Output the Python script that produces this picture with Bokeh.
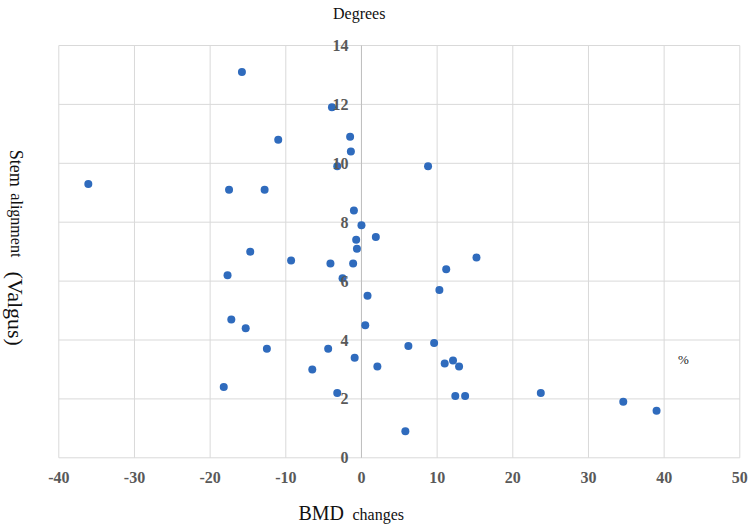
import math
from bokeh.plotting import figure
from bokeh.models import Range1d, Label
from bokeh.core.properties import value
from bokeh.embed import file_html
from bokeh.resources import INLINE

# ---- data ----
bmd_change = [-15.8, -3.9, -11.0, -1.5, -1.4, -3.2, -36.1, -17.5, -12.8, -1.0,
              0.0, 1.9, -0.7, -0.6, -14.7, 8.8, 15.2, -9.3, -4.1, -1.1,
              -17.7, -2.5, 0.8, -17.2, -15.3, 0.5, -12.5, -4.4, -0.9, -6.5,
              2.1, -18.2, -3.2, 11.2, 10.3, 6.2, 9.6, 11.0, 12.1, 12.9,
              12.4, 13.7, 23.7, 34.6, 39.0, 5.8]
stem_alignment = [13.1, 11.9, 10.8, 10.9, 10.4, 9.9, 9.3, 9.1, 9.1, 8.4,
                  7.9, 7.5, 7.4, 7.1, 7.0, 9.9, 6.8, 6.7, 6.6, 6.6,
                  6.2, 6.1, 5.5, 4.7, 4.4, 4.5, 3.7, 3.7, 3.4, 3.0,
                  3.1, 2.4, 2.2, 6.4, 5.7, 3.8, 3.9, 3.2, 3.3, 3.1,
                  2.1, 2.1, 2.2, 1.9, 1.6, 0.9]
x_ticks = [-40, -30, -20, -10, 0, 10, 20, 30, 40, 50]
x_tick_labels = [str(v) for v in x_ticks]
y_ticks = [0, 2, 4, 6, 8, 10, 12, 14]
y_tick_labels = [str(v) for v in y_ticks]

SERIF = "Liberation Serif"
GRAY = "#595959"
GRID = "#d9d9d9"
INK = "#111111"

# ---- layout: plot area inside a full-canvas frame ----
W, H = 750, 530
area_left, area_right, area_top, area_bottom = 58.3, 739.3, 45.0, 457.3
x0, x1 = x_ticks[0], x_ticks[-1]
y0, y1 = y_ticks[0], y_ticks[-1]
ppx = (area_right - area_left) / (x1 - x0)
ppy = (area_bottom - area_top) / (y1 - y0)
x_range = Range1d(x0 - area_left / ppx, x1 + (W - area_right) / ppx)
y_range = Range1d(y0 - (H - area_bottom) / ppy, y1 + area_top / ppy)

p = figure(width=W, height=H, output_backend="svg", toolbar_location=None,
           x_range=x_range, y_range=y_range, min_border=0,
           x_axis_type=None, y_axis_type=None)
p.outline_line_color = None
p.background_fill_color = "white"
p.border_fill_color = "white"
p.xgrid.visible = False
p.ygrid.visible = False

# grid lines
nx, ny = len(x_ticks), len(y_ticks)
p.segment(x0=x_ticks, y0=[y0] * nx, x1=x_ticks, y1=[y1] * nx,
          line_color=GRID, line_width=1)
p.segment(x0=[x0] * ny, y0=y_ticks, x1=[x1] * ny, y1=y_ticks,
          line_color=GRID, line_width=1)
# vertical axis line at x = 0
p.segment(x0=[0], y0=[y0], x1=[0], y1=[y1], line_color="#bfbfbf",
          line_width=1)

# points
p.scatter(bmd_change, stem_alignment, size=8, color="#2f6bbd",
          line_color=None)

# x tick labels
p.text(x=x_ticks, y=[y0] * nx, text=x_tick_labels, y_offset=20,
       text_align="center", text_baseline="middle",
       text_font=value(SERIF), text_font_style="bold",
       text_font_size="16px", text_color=GRAY)
# y tick labels along x = 0
p.text(x=[0] * ny, y=y_ticks, text=y_tick_labels, x_offset=-13,
       text_align="right", text_baseline="middle",
       text_font=value(SERIF), text_font_style="bold",
       text_font_size="16px", text_color=GRAY)

# annotations
p.add_layout(Label(x=-0.3, y=15.09, text="Degrees", text_align="center",
                   text_baseline="middle", text_font=SERIF,
                   text_font_size="16px", text_color=INK))
p.add_layout(Label(x=42.55, y=3.35, text="%", text_align="center",
                   text_baseline="middle", text_font=SERIF,
                   text_font_size="13px", text_color="#222222"))

# x title (mixed sizes)
p.add_layout(Label(x=-8.33, y=-1.89, text="BMD", text_align="left",
                   text_baseline="middle", text_font=SERIF,
                   text_font_size="20px", text_color=INK))
p.add_layout(Label(x=-1.19, y=-1.94, text="changes", text_align="left",
                   text_baseline="middle", text_font=SERIF,
                   text_font_size="16px", text_color=INK))

# y title (rotated, mixed sizes)
ylab_x = -45.72
p.add_layout(Label(x=ylab_x, y=10.46, text="Stem", angle=-math.pi / 2,
                   text_align="left", text_baseline="middle", text_font=SERIF,
                   text_font_size="18px", text_color=INK))
p.add_layout(Label(x=ylab_x + 0.15, y=8.98, text="alignment",
                   angle=-math.pi / 2, text_align="left",
                   text_baseline="middle", text_font=SERIF,
                   text_font_size="16px", text_color=INK))
p.add_layout(Label(x=ylab_x, y=6.33, text="(Valgus)", angle=-math.pi / 2,
                   text_align="left", text_baseline="middle", text_font=SERIF,
                   text_font_size="22px", text_color=INK))

open("out.html", "w").write(file_html(p, INLINE))
